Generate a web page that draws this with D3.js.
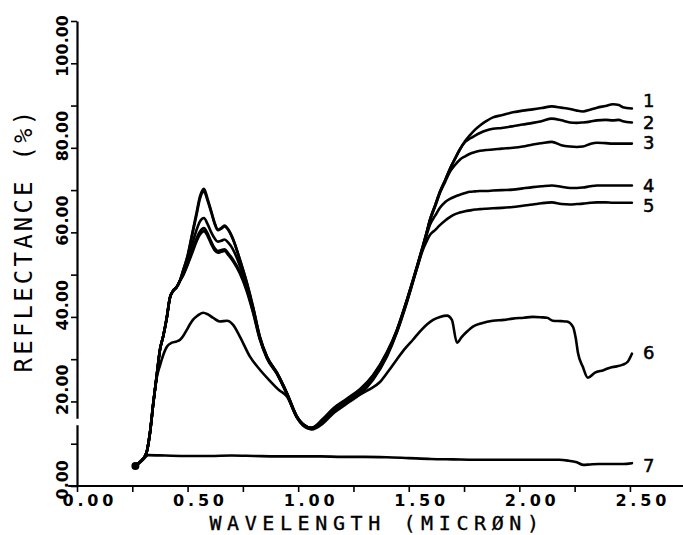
<!DOCTYPE html>
<html>
<head>
<meta charset="utf-8">
<script src="https://cdn.jsdelivr.net/npm/d3@7"></script>
<style>
  html, body { margin: 0; padding: 0; background: #fff; }
  svg { display: block; }
</style>
</head>
<body>
<svg id="chart" width="683" height="535"></svg>
<script>
// Wavelength grid (micron) shared by the five vegetation curves
const wlVeg = [0.255, 0.28, 0.30, 0.315, 0.33, 0.345, 0.36, 0.375, 0.39, 0.405,
  0.42, 0.435, 0.45, 0.465, 0.48, 0.50, 0.52, 0.54, 0.556, 0.574,
  0.59, 0.607, 0.622, 0.637, 0.652, 0.667, 0.685, 0.705, 0.737, 0.768,
  0.796, 0.827, 0.859, 0.904, 0.949, 0.995, 1.022, 1.061, 1.112, 1.157,
  1.221, 1.279, 1.338, 1.401, 1.447, 1.492, 1.537, 1.564, 1.58, 1.596,
  1.62, 1.641, 1.665, 1.686, 1.71, 1.731, 1.755, 1.777, 1.80, 1.822,
  1.85, 1.881, 1.92, 1.971, 2.015, 2.061, 2.10, 2.147, 2.19, 2.229,
  2.26, 2.287, 2.32, 2.351, 2.39, 2.423, 2.45, 2.468, 2.509];

// Reflectance (%) of curves 1-5 on that grid
const refl1 = [4.5, 5.5, 6.5, 8.0, 12.6, 19.6, 25.9, 32.2, 35.5, 39.5,
  44.5, 46.2, 47.0, 48.5, 51.0, 54.5, 59.5, 64.5, 68.5, 70.3,
  68.0, 65.0, 62.3, 60.6, 61.0, 61.6, 60.6, 58.5, 53.5, 48.1,
  42.4, 35.3, 30.6, 26.8, 22.0, 16.4, 14.6, 13.7, 15.6, 18.0,
  20.4, 22.6, 26.0, 31.5, 37.0, 44.1, 51.9, 56.8, 59.8, 63.0,
  66.5, 69.6, 72.4, 75.0, 77.5, 79.6, 81.6, 83.0, 84.3, 85.3,
  86.3, 87.2, 87.7, 88.4, 88.8, 89.1, 89.4, 89.8, 89.5, 89.2,
  88.8, 88.6, 89.0, 89.5, 89.9, 90.3, 90.1, 89.6, 89.3];
const refl2 = [4.5, 5.5, 6.5, 8.0, 12.6, 19.6, 25.9, 32.2, 35.5, 39.5,
  44.5, 46.2, 47.0, 48.5, 51.0, 54.3, 59.2, 64.0, 68.0, 69.7,
  67.6, 64.7, 62.1, 60.5, 60.9, 61.4, 60.5, 58.4, 53.4, 48.0,
  42.3, 35.2, 30.6, 26.8, 22.0, 16.4, 14.6, 13.8, 15.9, 18.3,
  20.7, 22.9, 26.2, 31.6, 37.0, 44.1, 51.9, 56.8, 59.8, 63.0,
  66.5, 69.6, 72.4, 75.0, 77.5, 79.6, 81.4, 82.2, 82.9, 83.5,
  84.1, 84.5, 84.7, 85.1, 85.5, 85.9, 86.3, 86.9, 86.5, 86.0,
  85.9, 86.0, 86.2, 86.5, 86.6, 86.5, 86.6, 86.3, 86.0];
const refl3 = [4.5, 5.5, 6.5, 8.0, 12.6, 19.6, 25.9, 32.2, 35.5, 39.5,
  44.5, 46.2, 47.0, 48.5, 50.5, 53.5, 57.0, 60.5, 62.6, 63.4,
  62.0, 60.0, 58.6, 57.8, 58.0, 58.3, 57.5, 56.0, 52.0, 47.2,
  41.8, 35.0, 30.4, 26.7, 21.9, 16.3, 14.5, 13.6, 15.3, 17.7,
  20.1, 22.3, 25.7, 31.2, 36.8, 43.9, 51.7, 56.6, 59.6, 62.8,
  66.2, 69.3, 72.0, 74.3, 76.0, 77.2, 78.0, 78.6, 79.0, 79.3,
  79.5, 79.6, 79.8, 80.0, 80.3, 80.8, 81.1, 81.4, 80.6, 80.3,
  80.2, 80.3, 80.9, 81.2, 81.1, 81.0, 81.0, 81.0, 81.0];
const refl4 = [4.5, 5.5, 6.5, 8.0, 12.6, 19.6, 25.9, 32.2, 35.5, 39.5,
  44.5, 46.2, 47.0, 48.5, 50.0, 52.5, 55.5, 58.5, 60.2, 61.0,
  59.8, 57.8, 56.3, 55.6, 55.8, 56.0, 55.0, 53.6, 50.6, 46.4,
  41.3, 34.8, 30.3, 26.6, 21.8, 16.2, 14.4, 13.5, 15.0, 17.4,
  19.8, 22.0, 25.4, 30.9, 36.6, 43.7, 51.6, 56.4, 59.2, 61.8,
  64.0, 65.8, 67.2, 67.9, 68.5, 68.9, 69.3, 69.6, 69.7, 69.8,
  69.8, 69.9, 70.0, 70.1, 70.4, 70.7, 70.9, 71.1, 70.8, 70.5,
  70.5, 70.6, 70.9, 71.1, 71.1, 71.1, 71.1, 71.1, 71.1];
const refl5 = [4.5, 5.5, 6.5, 8.0, 12.6, 19.6, 25.9, 32.2, 35.5, 39.5,
  44.5, 46.2, 47.0, 48.5, 49.8, 52.3, 55.0, 57.8, 59.5, 60.3,
  59.2, 57.2, 55.8, 55.2, 55.4, 55.6, 54.6, 53.2, 50.2, 46.0,
  41.0, 34.6, 30.2, 26.5, 21.7, 16.1, 14.3, 13.4, 14.8, 17.1,
  19.5, 21.7, 25.1, 30.6, 36.4, 43.5, 51.4, 55.9, 57.8, 59.4,
  60.6, 61.7, 62.8, 63.6, 64.3, 64.7, 65.0, 65.2, 65.4, 65.5,
  65.6, 65.7, 65.8, 66.0, 66.3, 66.6, 66.9, 67.1, 66.7, 66.6,
  66.7, 66.8, 67.0, 67.1, 67.1, 67.0, 67.0, 67.0, 67.0];

// Curve 6
const wl6 = [0.255, 0.28, 0.30, 0.315, 0.33, 0.345, 0.36, 0.375, 0.39, 0.407,
  0.429, 0.45, 0.466, 0.48, 0.497, 0.51, 0.524, 0.545, 0.57, 0.592,
  0.615, 0.646, 0.678, 0.705, 0.737, 0.782, 0.827, 0.868, 0.913, 0.949,
  0.995, 1.022, 1.061, 1.112, 1.157, 1.221, 1.279, 1.32, 1.37, 1.41,
  1.447, 1.485, 1.519, 1.55, 1.582, 1.61, 1.641, 1.673, 1.695, 1.718,
  1.74, 1.765, 1.79, 1.83, 1.88, 1.93, 1.97, 2.02, 2.06, 2.10,
  2.125, 2.152, 2.19, 2.215, 2.242, 2.255, 2.265, 2.287, 2.31, 2.342,
  2.38, 2.41, 2.44, 2.468, 2.49, 2.509];
const refl6 = [4.5, 5.5, 6.5, 8.0, 12.6, 19.6, 25.5, 28.5, 31.0, 33.0,
  33.9, 34.2, 34.6, 35.5, 37.0, 38.2, 39.3, 40.3, 41.0, 40.6,
  39.8, 38.9, 39.1, 38.2, 35.3, 30.6, 27.5, 25.1, 22.7, 21.2,
  16.2, 14.6, 13.7, 15.4, 17.6, 19.8, 21.6, 22.8, 24.6, 27.3,
  30.0, 32.6, 34.6, 36.5, 38.2, 39.3, 40.0, 40.3, 39.3, 33.9,
  35.3, 36.6, 37.7, 38.5, 39.1, 39.3, 39.6, 39.8, 40.0, 39.9,
  39.8, 39.1, 39.0, 38.9, 37.7, 35.0, 31.5, 28.2, 25.6, 26.8,
  27.4, 28.0, 28.3, 28.7, 29.4, 31.3];

// Curve 7
const wl7 = [0.255, 0.28, 0.30, 0.322, 0.40, 0.50, 0.60, 0.70, 0.80, 0.90,
  1.00, 1.10, 1.20, 1.30, 1.40, 1.50, 1.60, 1.70, 1.80, 1.90,
  2.00, 2.10, 2.18, 2.22, 2.26, 2.29, 2.32, 2.36, 2.42, 2.47, 2.509];
const refl7 = [4.5, 5.3, 6.3, 7.3, 7.2, 7.1, 7.1, 7.2, 7.1, 7.0,
  7.0, 7.0, 6.9, 6.9, 6.8, 6.6, 6.4, 6.3, 6.2, 6.2,
  6.2, 6.2, 6.2, 6.0, 5.6, 5.0, 5.1, 5.2, 5.2, 5.2, 5.4];

const curveNames = ["1", "2", "3", "4", "5", "6", "7"];
const xTicks = [0, 0.25, 0.5, 0.75, 1, 1.25, 1.5, 1.75, 2, 2.25, 2.5];
const xLabels = [0, 0.5, 1, 1.5, 2, 2.5];
const yTicks = [0, 10, 20, 30, 40, 50, 60, 70, 80, 90, 100, 110];
const yLabels = [0, 20, 40, 60, 80, 100];

const series = [
  { name: curveNames[0], wl: wlVeg, r: refl1 },
  { name: curveNames[1], wl: wlVeg, r: refl2 },
  { name: curveNames[2], wl: wlVeg, r: refl3 },
  { name: curveNames[3], wl: wlVeg, r: refl4 },
  { name: curveNames[4], wl: wlVeg, r: refl5 },
  { name: curveNames[5], wl: wl6, r: refl6 },
  { name: curveNames[6], wl: wl7, r: refl7 }
];

const svg = d3.select("#chart");
svg.append("rect").attr("width", 683).attr("height", 535).attr("fill", "#fff");

const x = d3.scaleLinear().domain([0, 2.74]).range([77, 683]);
const y = d3.scaleLinear().domain([0, 110]).range([486, 21]);

const fmt = d3.format(".2f");
const tickFont = "'DejaVu Sans', sans-serif";

// x axis (its baseline runs a little past the origin, as plotted)
const xAxis = svg.append("g")
  .attr("transform", `translate(0,${y(0)})`)
  .call(d3.axisBottom(x).tickValues(xTicks).tickSize(6).tickSizeOuter(0)
    .tickFormat(d => xLabels.some(v => Math.abs(v - d) < 1e-9) ? fmt(d) : ""));
xAxis.select(".domain")
  .attr("d", `M${x(-0.04)},0H${x(2.74)}`)
  .attr("stroke", "#000").attr("stroke-width", 2.2);
xAxis.selectAll(".tick line").attr("stroke", "#000").attr("stroke-width", 1.6);
xAxis.selectAll(".tick text")
  .attr("fill", "#000")
  .attr("font-family", tickFont)
  .attr("font-weight", "bold")
  .attr("font-size", 16)
  .attr("letter-spacing", 3.8)
  .attr("text-anchor", "start")
  .attr("x", -15)
  .attr("y", 9)
  .attr("dy", "0.71em");

// y axis, with the small break in the pen line just above 10 %
const yAxis = svg.append("g")
  .attr("transform", `translate(${x(0)},0)`)
  .call(d3.axisLeft(y).tickValues(yTicks).tickSize(6).tickSizeOuter(0)
    .tickFormat(d => yLabels.includes(d) ? fmt(d) : ""));
const penBreak = [y(0) - y(14.5), y(14.5) - y(16), 1000];
yAxis.select(".domain")
  .attr("stroke", "#000").attr("stroke-width", 2.2)
  .attr("stroke-dasharray", penBreak.join(","));
yAxis.selectAll(".tick line").attr("stroke", "#000").attr("stroke-width", 1.6);
yAxis.selectAll(".tick text")
  .attr("fill", "#000")
  .attr("font-family", tickFont)
  .attr("font-weight", "bold")
  .attr("font-size", 16)
  .attr("text-anchor", "start")
  .attr("x", null).attr("dy", null)
  .attr("transform", "translate(-9,13) rotate(-90)");

// axis titles
svg.append("text")
  .attr("x", 377).attr("y", 530)
  .attr("text-anchor", "middle")
  .attr("font-family", "'DejaVu Sans Mono', monospace")
  .attr("font-size", 20)
  .attr("letter-spacing", 5.6)
  .attr("fill", "#000")
  .attr("stroke", "#000")
  .attr("stroke-width", 0.35)
  .text("WAVELENGTH (MICRØN)");

svg.append("text")
  .attr("transform", "translate(32,240) rotate(-90)")
  .attr("text-anchor", "middle")
  .attr("font-family", "'DejaVu Sans Mono', monospace")
  .attr("font-size", 24)
  .attr("letter-spacing", 3.2)
  .attr("fill", "#000")
  .text("REFLECTANCE (%)");

// spectra
const line = d3.line()
  .x(d => x(d[0]))
  .y(d => y(d[1]))
  .curve(d3.curveMonotoneX);

svg.append("g").selectAll("path")
  .data(series)
  .join("path")
  .attr("d", s => line(s.wl.map((w, i) => [w, s.r[i]])))
  .attr("fill", "none")
  .attr("stroke", "#000")
  .attr("stroke-width", 2.6)
  .attr("stroke-linejoin", "round")
  .attr("stroke-linecap", "round");

// start blob where all spectra begin
svg.append("circle")
  .attr("cx", x(wlVeg[0]) + 2).attr("cy", y(refl1[0]) - 1).attr("r", 4)
  .attr("fill", "#000");

// curve numbers at the right end of each spectrum
const labelShift = [-8, 0, -1, 0, 3, -1, 2];
svg.append("g").selectAll("text")
  .data(series)
  .join("text")
  .attr("x", 643)
  .attr("y", (s, i) => y(s.r[s.r.length - 1]) + labelShift[i])
  .attr("dominant-baseline", "central")
  .attr("font-family", "'DejaVu Sans', sans-serif")
  .attr("font-size", 18)
  .attr("fill", "#000")
  .attr("stroke", "#000")
  .attr("stroke-width", 0.5)
  .text(s => s.name);
</script>
</body>
</html>
